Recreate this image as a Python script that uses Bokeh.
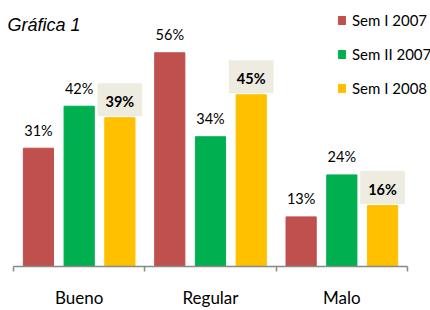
from bokeh.plotting import figure
from bokeh.models import (ColumnDataSource, Range1d, FixedTicker, Legend, LegendItem, Label)
from bokeh.transform import dodge
from bokeh.core.properties import value
from bokeh.embed import file_html
from bokeh.resources import INLINE

# ---- data ----
categories = ["Bueno", "Regular", "Malo"]
series_names = ["Sem I 2007", "Sem II 2007", "Sem I 2008"]
sem1_2007 = [31, 56, 13]
sem2_2007 = [42, 34, 24]
sem1_2008 = [39, 45, 16]
title_text = "Gráfica 1"

colors = ["#C0504D", "#00B050", "#FFC000"]
offsets = [-0.31, 0.0, 0.31]
values_list = [sem1_2007, sem2_2007, sem1_2008]
bold_flags = [False, False, True]

xpos = [i + 0.5 for i in range(len(categories))]

p = figure(width=430, height=310, output_backend="svg", toolbar_location=None,
           x_range=Range1d(-13 / 131.33, 3 + 23 / 131.33), y_range=Range1d(0, 69.7),
           min_border_left=0, min_border_right=0, min_border_top=0, min_border_bottom=44)
p.outline_line_color = None
p.grid.grid_line_color = None
p.yaxis.visible = False
p.background_fill_color = "white"
p.border_fill_color = "white"

xa = p.xaxis[0]
xa.bounds = (0, 3)
xa.ticker = FixedTicker(ticks=xpos, minor_ticks=[0, 1, 2, 3])
xa.major_label_overrides = {x: c for x, c in zip(xpos, categories)}
xa.axis_line_color = "#898989"
xa.axis_line_width = 1.5
xa.major_tick_line_color = None
xa.major_tick_out = 0
xa.major_tick_in = 0
xa.minor_tick_line_color = "#898989"
xa.minor_tick_line_width = 1.5
xa.minor_tick_out = 5
xa.minor_tick_in = 0
xa.major_label_standoff = 15
xa.major_label_text_font = "Lato"
xa.major_label_text_font_size = "17px"
xa.major_label_text_color = "#000000"

items = []
for name, vals, col, off, bold in zip(series_names, values_list, colors, offsets, bold_flags):
    src = ColumnDataSource(dict(x=xpos, top=vals, lab=[f"{v}%" for v in vals]))
    r = p.vbar(x=dodge("x", off), top="top", bottom=0, width=0.23, source=src,
               fill_color=col, line_color=col)
    items.append(LegendItem(label=name, renderers=[r]))
    if bold:
        p.text(x=dodge("x", off), y="top", text="lab", source=src,
               text_font=value("Lato"), text_font_size="14.5px", text_font_style="bold",
               text_align="center", text_baseline="alphabetic", y_offset=-18,
               text_color="#000000", background_fill_color="#EEECE1",
               padding=dict(left=8, right=8, top=10, bottom=6))
    else:
        p.text(x=dodge("x", off), y="top", text="lab", source=src,
               text_font=value("Lato"), text_font_size="14.5px",
               text_align="center", text_baseline="alphabetic", y_offset=-18,
               text_color="#000000")

legend = Legend(items=items, location=(337, 168), orientation="vertical",
                glyph_width=9, glyph_height=10, label_height=20, spacing=14,
                label_standoff=6, padding=0, margin=0,
                border_line_color=None, background_fill_alpha=0,
                label_text_font="Lato", label_text_font_size="15px", label_text_color="#000000")
p.add_layout(legend)

p.add_layout(Label(x=-0.046, y=63.2, text=title_text, text_font="Liberation Sans",
                   text_font_style="italic", text_font_size="18px", text_color="#000000",
                   text_baseline="alphabetic"))

open("out.html", "w").write(file_html(p, INLINE))
